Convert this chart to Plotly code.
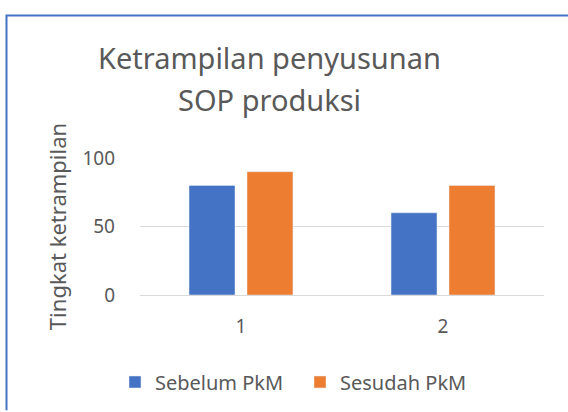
import plotly.graph_objects as go

categories = ["1", "2"]
sebelum = [80, 60]
sesudah = [90, 80]
series_names = ["Sebelum PkM", "Sesudah PkM"]
y_ticks = [0, 50, 100]

FONT = "Noto Sans"
GREY = "#595959"

L, R, T, B = 140, 24, 158, 116
W, H = 568, 412
pw = W - L - R
ph = H - T - B

def px(x):
    return (x - L) / pw

def py(y):
    return (H - B - y) / ph

fig = go.Figure()
fig.add_trace(go.Bar(x=categories, y=sebelum, name=series_names[0], marker_color="#4472C4"))
fig.add_trace(go.Bar(x=categories, y=sesudah, name=series_names[1], marker_color="#ED7D31"))

fig.update_layout(
    width=W, height=H,
    margin=dict(l=L, r=R, t=T, b=B),
    paper_bgcolor="white", plot_bgcolor="white",
    barmode="group", bargap=0.426, bargroupgap=0.207,
    font=dict(family=FONT, color=GREY),
    showlegend=True,
    legend=dict(orientation="h", x=px(115), xanchor="left", y=py(382), yanchor="middle",
                font=dict(size=20, color=GREY, family=FONT), itemwidth=30,
                entrywidth=140, traceorder="normal"),
    xaxis=dict(showgrid=False, showline=False, ticks="", tickfont=dict(size=19, color=GREY),
               ticklabelstandoff=18),
    yaxis=dict(range=[0, 100], tickvals=y_ticks, showgrid=True, gridcolor="#D9D9D9", gridwidth=1,
               zeroline=True, zerolinecolor="#D9D9D9", zerolinewidth=1,
               tickfont=dict(size=19, color=GREY), ticks="", ticklabelstandoff=24,
               title=dict(text="Tingkat ketrampilan", font=dict(size=22, color=GREY), standoff=9)),
    shapes=[
        dict(type="path", xref="paper", yref="paper",
             path=f"M {px(6.5)},{py(412)} L {px(6.5)},{py(14.5)} L {px(568)},{py(14.5)}",
             line=dict(color="#4472C4", width=2)),
    ],
    annotations=[
        dict(text="Ketrampilan penyusunan", xref="paper", yref="paper", x=px(269), xanchor="center",
             y=py(57), yanchor="middle", showarrow=False, font=dict(size=29, color=GREY, family=FONT)),
        dict(text="SOP produksi", xref="paper", yref="paper", x=px(269), xanchor="center",
             y=py(99), yanchor="middle", showarrow=False, font=dict(size=29, color=GREY, family=FONT)),
    ],
)

fig.write_html("out.html", config={"displayModeBar": False},
               post_script="document.body.style.margin='0';")
